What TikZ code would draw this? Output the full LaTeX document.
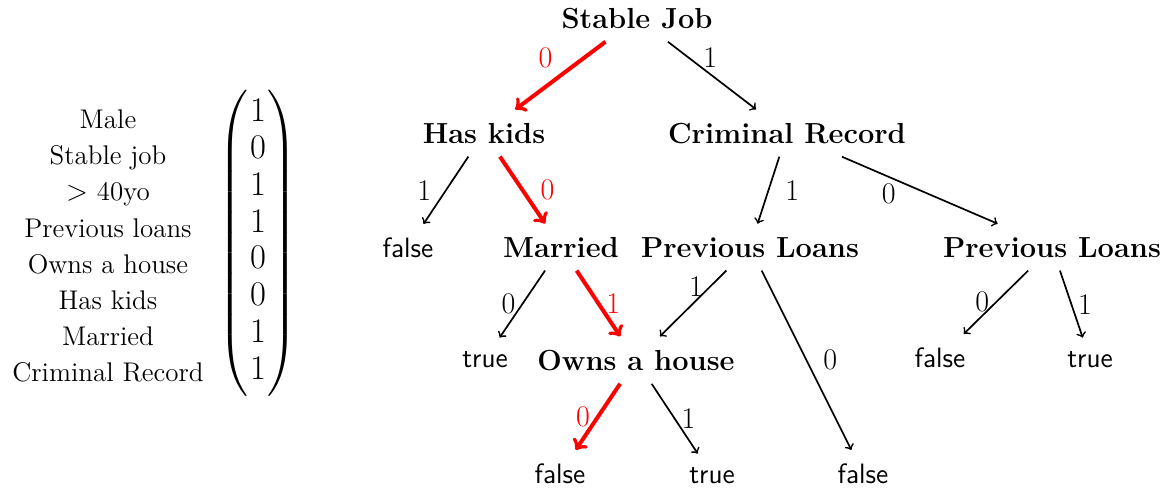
\documentclass[tikz,border=0pt]{standalone}
\usepackage{amsmath,amssymb}
\usepackage{tikz}
\usetikzlibrary{arrows.meta,positioning}

\begin{document}
\begin{tikzpicture}[x=0.5pt,y=-0.5pt,>=to]
\tikzstyle{attr}=[font=\bfseries\fontsize{14.5}{17}\selectfont,inner sep=6.5pt,anchor=base]
\tikzstyle{leaf}=[font=\sffamily\fontsize{14}{17}\selectfont,inner sep=6.5pt,anchor=base]
\tikzstyle{lbl}=[font=\fontsize{15}{17}\selectfont,inner sep=3pt]
\tikzstyle{edge}=[->,line width=0.85pt]
\tikzstyle{taken}=[->,line width=2pt,red]
\useasboundingbox (0,0) rectangle (1173,489);
% feature vector
\node[font=\fontsize{13.5}{18.07}\selectfont,align=center] (feat) at (108,246) {Male\\Stable job\\$>$ 40yo\\Previous loans\\Owns a house\\Has kids\\Married\\Criminal Record};
\node[font=\fontsize{17}{18.4}\selectfont,inner sep=0pt] (vec) at (258,244) {$\left(\vrule height 73pt depth 73pt width 0pt\begin{array}{@{\hspace{1pt}}c@{\hspace{1pt}}}1\\0\\1\\1\\0\\0\\1\\1\end{array}\right)$};
% tree
\node[attr] (sj) at (637,28) {Stable Job};
\node[attr] (hk) at (484,143) {Has kids};
\node[attr] (cr) at (787,143) {Criminal Record};
\node[leaf] (f1) at (408,257) {false};
\node[attr] (m) at (561,257) {Married};
\node[attr] (pl1) at (750,257) {Previous Loans};
\node[attr] (pl2) at (1052,257) {Previous Loans};
\node[leaf] (t1) at (485,367) {true};
\node[attr] (oh) at (636,370) {Owns a house};
\node[leaf] (f2) at (940,367) {false};
\node[leaf] (t2) at (1090,367) {true};
\node[leaf] (f3) at (560,483) {false};
\node[leaf] (t3) at (712,483) {true};
\node[leaf] (f4) at (863,483) {false};
% branches
\draw[taken] (sj) -- node[lbl,above left] {0} (hk);
\draw[edge] (sj) -- node[lbl,above,pos=0.48] {1} (cr);
\draw[edge] (hk) -- node[lbl,left=4pt] {1} (f1);
\draw[taken] (hk) -- node[lbl,right=5pt] {0} (m);
\draw[edge] (cr) -- node[lbl,right=5pt] {1} (pl1);
\draw[edge] (cr) -- node[lbl,below,pos=0.3] {0} (pl2);
\draw[edge] (m) -- node[lbl,left] {0} (t1);
\draw[taken] (m) -- node[lbl,right] {1} (oh);
\draw[edge] (pl1) -- node[lbl,left,pos=0.25] {1} (oh);
\draw[edge] (pl1) -- node[lbl,right=5pt] {0} (f4);
\draw[edge] (pl2) -- node[lbl,left] {0} (f2);
\draw[edge] (pl2) -- node[lbl,right] {1} (t2);
\draw[taken] (oh) -- node[lbl,left] {0} (f3);
\draw[edge] (oh) -- node[lbl,right] {1} (t3);
\end{tikzpicture}
\end{document}
